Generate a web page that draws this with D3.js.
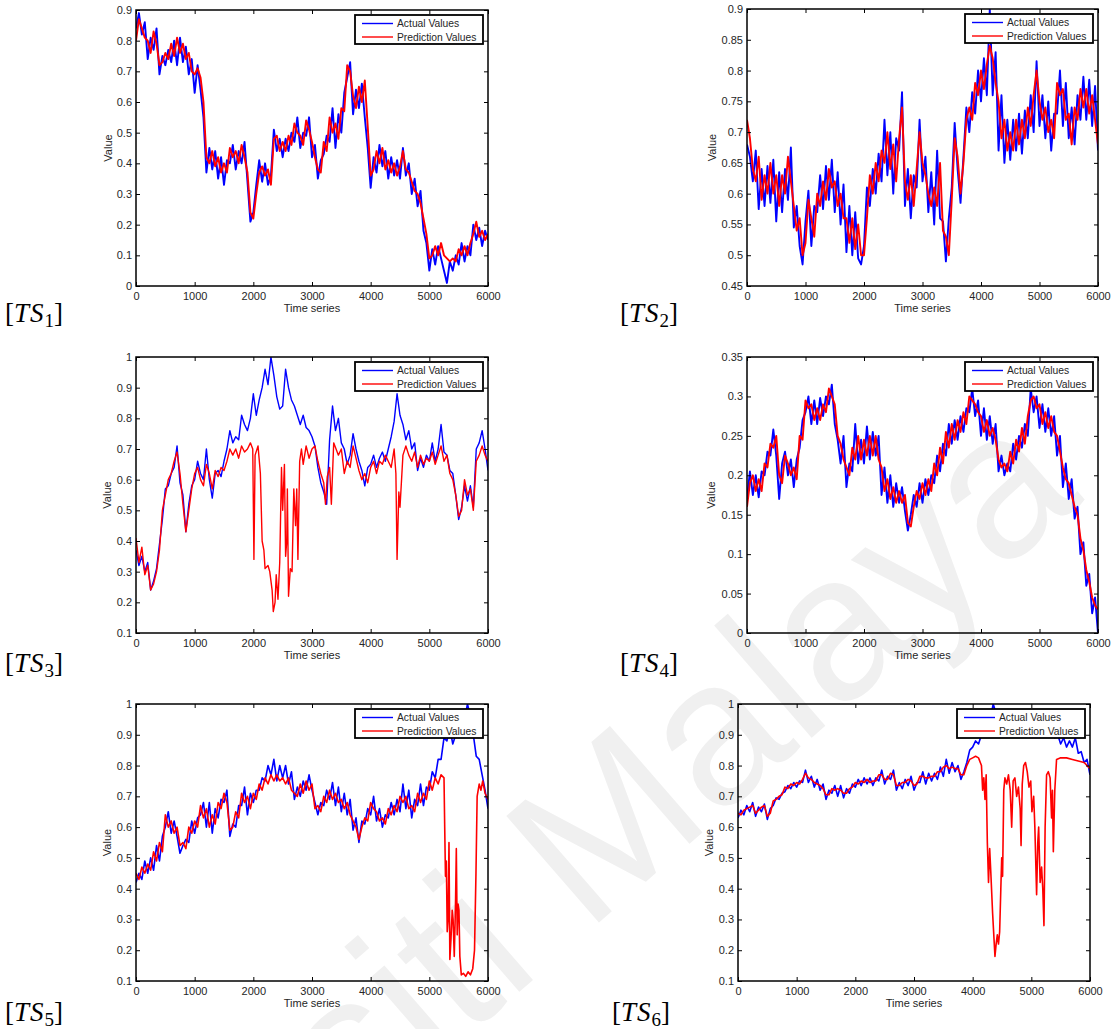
<!DOCTYPE html>
<html>
<head>
<meta charset="utf-8">
<script src="https://cdn.jsdelivr.net/npm/d3@7"></script>
<style>
  body { margin: 0; background: #fff; }
  svg { display: block; }
  .tick text, .axis-title, .legend text { font-family: "Liberation Sans", Arial, Helvetica, sans-serif; }
</style>
</head>
<body>
<svg id="chart" width="1119" height="1029"></svg>
<script>
// ---------- sampling instants (one reading every 50 steps) ----------
const timeGrid = d3.range(0, 6001, 50);

// ---------- TS1 ----------
const ts1Actual = [
  0.84,0.89,0.82,0.86,0.74,0.81,0.77,0.84,0.69,0.75,
  0.72,0.77,0.73,0.80,0.72,0.81,0.73,0.78,0.69,0.74,
  0.63,0.72,0.64,0.55,0.37,0.45,0.38,0.44,0.35,0.42,
  0.33,0.41,0.40,0.46,0.38,0.44,0.40,0.47,0.34,0.21,
  0.24,0.33,0.41,0.34,0.40,0.33,0.36,0.51,0.44,0.48,
  0.42,0.48,0.44,0.50,0.47,0.55,0.45,0.50,0.49,0.55,
  0.42,0.46,0.35,0.41,0.43,0.49,0.47,0.58,0.45,0.56,
  0.50,0.63,0.68,0.73,0.56,0.64,0.58,0.66,0.55,0.45,
  0.32,0.42,0.37,0.46,0.39,0.44,0.35,0.42,0.36,0.41,
  0.35,0.45,0.36,0.40,0.30,0.35,0.26,0.31,0.18,0.14,
  0.05,0.12,0.07,0.13,0.09,0.05,0.01,0.08,0.05,0.10,
  0.07,0.14,0.08,0.13,0.10,0.20,0.15,0.19,0.13,0.18,
  0.15
];
const ts1Pred = [
  0.80,0.87,0.84,0.81,0.80,0.76,0.83,0.79,0.72,0.73,
  0.76,0.74,0.79,0.75,0.81,0.76,0.79,0.74,0.76,0.70,
  0.69,0.71,0.68,0.60,0.42,0.40,0.44,0.39,0.42,0.37,
  0.40,0.37,0.45,0.42,0.44,0.40,0.46,0.42,0.37,0.24,
  0.22,0.30,0.37,0.39,0.36,0.38,0.33,0.48,0.49,0.44,
  0.47,0.44,0.49,0.46,0.53,0.50,0.49,0.46,0.54,0.51,
  0.47,0.42,0.38,0.37,0.47,0.44,0.55,0.50,0.53,0.48,
  0.58,0.57,0.72,0.70,0.62,0.58,0.65,0.60,0.67,0.52,
  0.36,0.38,0.44,0.40,0.45,0.38,0.41,0.37,0.40,0.36,
  0.39,0.44,0.38,0.37,0.34,0.31,0.30,0.27,0.22,0.17,
  0.09,0.10,0.13,0.10,0.14,0.10,0.09,0.08,0.09,0.08,
  0.12,0.10,0.13,0.10,0.14,0.17,0.21,0.16,0.18,0.15,
  0.17
];

// ---------- TS2 ----------
const ts2Actual = [
  0.68,0.66,0.62,0.67,0.575,0.64,0.58,0.645,0.585,0.655,
  0.555,0.635,0.57,0.64,0.59,0.675,0.545,0.58,0.515,0.485,
  0.555,0.605,0.515,0.58,0.57,0.63,0.575,0.645,0.59,0.655,
  0.57,0.635,0.55,0.615,0.505,0.58,0.50,0.57,0.495,0.485,
  0.515,0.61,0.58,0.64,0.60,0.665,0.62,0.72,0.63,0.70,
  0.60,0.69,0.67,0.765,0.58,0.64,0.56,0.63,0.61,0.72,
  0.62,0.66,0.57,0.635,0.55,0.67,0.56,0.555,0.49,0.56,
  0.61,0.715,0.64,0.585,0.66,0.74,0.70,0.765,0.73,0.80,
  0.75,0.82,0.76,0.90,0.76,0.83,0.67,0.76,0.65,0.72,
  0.655,0.72,0.67,0.73,0.665,0.735,0.69,0.76,0.70,0.815,
  0.71,0.76,0.69,0.75,0.67,0.73,0.73,0.80,0.71,0.78,
  0.69,0.74,0.68,0.76,0.72,0.79,0.72,0.785,0.71,0.775,
  0.67
];
const ts2Pred = [
  0.72,0.69,0.64,0.62,0.66,0.59,0.63,0.60,0.65,0.60,
  0.63,0.58,0.63,0.60,0.66,0.62,0.58,0.54,0.56,0.50,
  0.52,0.59,0.56,0.53,0.60,0.58,0.62,0.59,0.64,0.61,
  0.62,0.58,0.60,0.56,0.56,0.52,0.56,0.51,0.55,0.50,
  0.50,0.56,0.63,0.60,0.65,0.62,0.67,0.65,0.70,0.64,
  0.68,0.62,0.69,0.74,0.62,0.59,0.63,0.58,0.64,0.70,
  0.65,0.63,0.60,0.58,0.61,0.58,0.65,0.54,0.53,0.50,
  0.59,0.69,0.66,0.60,0.65,0.72,0.74,0.72,0.78,0.76,
  0.80,0.77,0.81,0.84,0.82,0.78,0.75,0.69,0.72,0.67,
  0.70,0.67,0.72,0.68,0.72,0.69,0.74,0.71,0.76,0.80,
  0.75,0.72,0.74,0.70,0.72,0.69,0.78,0.76,0.77,0.72,
  0.73,0.68,0.74,0.72,0.77,0.74,0.77,0.73,0.76,0.72,
  0.68
];

// ---------- TS3 ----------
const ts3Actual = [
  0.37,0.32,0.35,0.30,0.33,0.24,0.27,0.31,0.39,0.47,
  0.57,0.58,0.62,0.64,0.71,0.59,0.55,0.43,0.52,0.58,
  0.60,0.66,0.62,0.60,0.70,0.60,0.54,0.62,0.63,0.61,
  0.66,0.70,0.76,0.72,0.74,0.73,0.81,0.78,0.76,0.80,
  0.88,0.81,0.86,0.90,0.96,0.91,1.00,0.94,0.87,0.83,
  0.84,0.96,0.90,0.86,0.84,0.81,0.78,0.81,0.77,0.76,
  0.74,0.71,0.64,0.59,0.56,0.52,0.73,0.84,0.76,0.80,
  0.72,0.70,0.65,0.68,0.75,0.70,0.66,0.63,0.58,0.64,
  0.65,0.68,0.64,0.67,0.69,0.66,0.70,0.74,0.79,0.88,
  0.81,0.78,0.73,0.76,0.70,0.72,0.63,0.67,0.64,0.68,
  0.66,0.72,0.66,0.70,0.78,0.69,0.68,0.63,0.62,0.55,
  0.47,0.51,0.58,0.53,0.58,0.51,0.70,0.72,0.76,0.70,
  0.63
];
// prediction read as [time, value]: denser where it breaks away
const ts3Pred = [
  [0,0.41],[50,0.33],[100,0.38],[150,0.29],[200,0.32],[250,0.24],[300,0.26],[350,0.30],[400,0.37],[450,0.50],
  [500,0.55],[550,0.60],[600,0.62],[650,0.66],[700,0.69],[750,0.62],[800,0.52],[850,0.43],[900,0.50],[950,0.57],
  [1000,0.62],[1050,0.64],[1100,0.60],[1150,0.58],[1200,0.65],[1250,0.62],[1300,0.57],[1350,0.63],[1400,0.61],[1450,0.64],
  [1500,0.63],[1550,0.66],[1600,0.70],[1650,0.68],[1700,0.70],[1750,0.67],[1800,0.71],[1850,0.69],[1900,0.70],[1950,0.72],
  [1990,0.70],[2010,0.34],[2030,0.68],[2080,0.71],[2120,0.62],[2150,0.40],[2180,0.37],[2200,0.31],[2250,0.32],[2280,0.30],
  [2320,0.24],[2340,0.17],[2370,0.20],[2390,0.29],[2420,0.21],[2450,0.33],[2480,0.64],[2500,0.50],[2530,0.65],[2550,0.35],
  [2570,0.40],[2580,0.57],[2600,0.22],[2630,0.31],[2660,0.30],[2690,0.57],[2720,0.45],[2740,0.57],[2760,0.34],[2790,0.66],
  [2820,0.70],[2850,0.65],[2900,0.71],[2950,0.67],[3000,0.70],[3050,0.71],[3100,0.66],[3150,0.62],[3200,0.59],[3230,0.52],
  [3260,0.61],[3300,0.64],[3330,0.52],[3370,0.72],[3450,0.68],[3500,0.70],[3550,0.62],[3600,0.66],[3650,0.64],[3700,0.71],
  [3750,0.67],[3800,0.63],[3850,0.60],[3900,0.62],[3950,0.59],[4000,0.64],[4050,0.66],[4100,0.62],[4150,0.66],[4200,0.65],
  [4250,0.68],[4300,0.66],[4350,0.64],[4400,0.70],[4430,0.62],[4450,0.34],[4480,0.56],[4500,0.51],[4550,0.68],[4600,0.71],
  [4650,0.68],[4700,0.66],[4750,0.69],[4800,0.64],[4850,0.68],[4900,0.65],[4950,0.67],[5000,0.66],[5050,0.69],[5100,0.65],
  [5150,0.68],[5200,0.71],[5250,0.66],[5300,0.68],[5350,0.62],[5400,0.60],[5450,0.55],[5500,0.48],[5550,0.50],[5600,0.60],
  [5650,0.55],[5700,0.57],[5750,0.50],[5800,0.66],[5850,0.68],[5900,0.71],[5950,0.68],[6000,0.66]
];

// ---------- TS4 ----------
const ts4Actual = [
  0.17,0.205,0.175,0.20,0.172,0.205,0.20,0.23,0.225,0.258,
  0.225,0.17,0.215,0.23,0.20,0.22,0.185,0.22,0.235,0.27,
  0.28,0.30,0.265,0.295,0.265,0.298,0.275,0.30,0.29,0.315,
  0.265,0.245,0.215,0.25,0.185,0.215,0.205,0.265,0.215,0.245,
  0.215,0.262,0.22,0.255,0.225,0.25,0.175,0.21,0.165,0.20,
  0.16,0.19,0.165,0.185,0.155,0.13,0.15,0.175,0.16,0.19,
  0.165,0.195,0.175,0.20,0.19,0.225,0.205,0.24,0.225,0.265,
  0.24,0.27,0.245,0.275,0.255,0.285,0.28,0.31,0.275,0.295,
  0.25,0.285,0.245,0.275,0.24,0.265,0.205,0.225,0.20,0.215,
  0.205,0.24,0.22,0.25,0.235,0.265,0.25,0.31,0.28,0.30,
  0.26,0.29,0.255,0.285,0.25,0.275,0.225,0.25,0.185,0.215,
  0.17,0.195,0.145,0.16,0.10,0.115,0.06,0.075,0.025,0.045,
  0.0
];
const ts4Pred = [
  0.16,0.19,0.20,0.18,0.195,0.18,0.215,0.21,0.24,0.235,
  0.25,0.20,0.19,0.225,0.215,0.20,0.21,0.195,0.25,0.245,
  0.295,0.285,0.29,0.27,0.285,0.27,0.29,0.28,0.31,0.30,
  0.29,0.25,0.24,0.22,0.21,0.20,0.235,0.22,0.25,0.22,
  0.245,0.225,0.25,0.225,0.25,0.22,0.21,0.18,0.195,0.17,
  0.185,0.165,0.18,0.165,0.175,0.14,0.135,0.16,0.18,0.17,
  0.19,0.175,0.195,0.18,0.215,0.20,0.235,0.215,0.255,0.235,
  0.265,0.245,0.27,0.255,0.28,0.265,0.30,0.295,0.29,0.28,
  0.275,0.255,0.27,0.25,0.26,0.245,0.22,0.21,0.215,0.205,
  0.23,0.215,0.245,0.23,0.26,0.24,0.275,0.295,0.30,0.285,
  0.29,0.265,0.28,0.26,0.275,0.255,0.25,0.23,0.21,0.195,
  0.19,0.175,0.16,0.15,0.12,0.105,0.08,0.065,0.045,0.035,
  0.03
];

// ---------- TS5 ----------
const ts5Actual = [
  0.42,0.45,0.43,0.49,0.45,0.50,0.46,0.54,0.49,0.57,
  0.60,0.65,0.58,0.62,0.57,0.515,0.54,0.56,0.55,0.62,
  0.58,0.63,0.64,0.68,0.60,0.68,0.58,0.66,0.63,0.69,
  0.68,0.72,0.57,0.61,0.60,0.67,0.67,0.73,0.64,0.71,
  0.68,0.72,0.72,0.76,0.75,0.80,0.77,0.82,0.75,0.80,
  0.76,0.80,0.74,0.78,0.69,0.73,0.70,0.75,0.72,0.77,
  0.72,0.68,0.64,0.68,0.67,0.72,0.69,0.745,0.67,0.73,
  0.65,0.71,0.64,0.69,0.59,0.63,0.55,0.62,0.61,0.66,
  0.64,0.70,0.62,0.66,0.60,0.64,0.63,0.68,0.64,0.69,
  0.65,0.74,0.66,0.72,0.63,0.69,0.67,0.74,0.67,0.73,
  0.72,0.78,0.76,0.82,0.82,0.89,0.88,0.92,0.87,0.90,
  0.92,0.97,0.95,1.00,0.96,0.90,0.83,0.82,0.77,0.72,
  0.66
];
const ts5Pred = [
  [0,0.45],[50,0.43],[100,0.47],[150,0.45],[200,0.48],[250,0.46],[300,0.52],[350,0.49],[400,0.55],[450,0.52],
  [500,0.64],[550,0.60],[600,0.62],[650,0.58],[700,0.60],[750,0.54],[800,0.55],[850,0.53],[900,0.60],[950,0.58],
  [1000,0.62],[1050,0.60],[1100,0.67],[1150,0.63],[1200,0.66],[1250,0.60],[1300,0.64],[1350,0.61],[1400,0.68],[1450,0.66],
  [1500,0.71],[1550,0.68],[1600,0.59],[1650,0.60],[1700,0.65],[1750,0.63],[1800,0.71],[1850,0.68],[1900,0.70],[1950,0.66],
  [2000,0.71],[2050,0.69],[2100,0.74],[2150,0.72],[2200,0.76],[2250,0.74],[2300,0.77],[2350,0.75],[2400,0.77],[2450,0.75],
  [2500,0.76],[2550,0.74],[2600,0.76],[2650,0.72],[2700,0.71],[2750,0.70],[2800,0.74],[2850,0.71],[2900,0.75],[2950,0.72],
  [3000,0.74],[3050,0.66],[3100,0.67],[3150,0.65],[3200,0.70],[3250,0.68],[3300,0.72],[3350,0.69],[3400,0.71],[3450,0.68],
  [3500,0.69],[3550,0.66],[3600,0.68],[3650,0.64],[3700,0.62],[3750,0.60],[3800,0.56],[3850,0.60],[3900,0.63],[3950,0.62],
  [4000,0.68],[4050,0.66],[4100,0.65],[4150,0.62],[4200,0.63],[4250,0.61],[4300,0.66],[4350,0.64],[4400,0.67],[4450,0.65],
  [4500,0.70],[4550,0.68],[4600,0.70],[4650,0.66],[4700,0.67],[4750,0.65],[4800,0.71],[4850,0.68],[4900,0.71],[4950,0.69],
  [5000,0.75],[5050,0.72],[5100,0.76],[5150,0.74],[5200,0.77],[5250,0.76],[5262,0.60],[5275,0.44],[5290,0.49],[5305,0.26],
  [5320,0.30],[5335,0.55],[5350,0.17],[5370,0.24],[5390,0.33],[5405,0.30],[5425,0.18],[5440,0.30],[5448,0.37],[5460,0.53],
  [5475,0.25],[5490,0.35],[5505,0.33],[5520,0.18],[5545,0.12],[5580,0.125],[5620,0.115],[5660,0.13],[5700,0.12],[5740,0.14],
  [5770,0.20],[5795,0.45],[5815,0.70],[5850,0.74],[5880,0.72],[5910,0.75],[5950,0.71],[6000,0.69]
];

// ---------- TS6 ----------
const ts6Actual = [
  0.63,0.655,0.64,0.67,0.65,0.68,0.635,0.665,0.65,0.675,
  0.625,0.66,0.67,0.695,0.69,0.71,0.715,0.735,0.725,0.745,
  0.73,0.75,0.745,0.785,0.745,0.765,0.73,0.755,0.72,0.74,
  0.69,0.72,0.71,0.735,0.70,0.735,0.695,0.725,0.71,0.74,
  0.73,0.755,0.735,0.76,0.74,0.76,0.735,0.76,0.75,0.785,
  0.74,0.765,0.755,0.785,0.72,0.745,0.725,0.755,0.735,0.765,
  0.72,0.745,0.745,0.78,0.74,0.775,0.75,0.775,0.755,0.795,
  0.765,0.82,0.775,0.81,0.78,0.80,0.755,0.78,0.81,0.85,
  0.86,0.88,0.87,0.90,0.91,0.95,0.95,1.00,0.97,0.98,
  0.95,0.97,0.94,0.97,0.95,0.98,0.94,0.97,0.95,0.98,
  0.94,0.97,0.95,0.98,0.94,0.96,0.95,0.92,0.89,0.90,
  0.87,0.89,0.86,0.88,0.86,0.89,0.84,0.845,0.81,0.82,
  0.77
];
const ts6Pred = [
  [0,0.645],[50,0.64],[100,0.655],[150,0.66],[200,0.665],[250,0.67],[300,0.645],[350,0.655],[400,0.665],[450,0.67],
  [500,0.635],[550,0.645],[600,0.685],[650,0.69],[700,0.70],[750,0.705],[800,0.73],[850,0.725],[900,0.74],[950,0.735],
  [1000,0.745],[1050,0.74],[1100,0.755],[1150,0.775],[1200,0.76],[1250,0.755],[1300,0.745],[1350,0.74],[1400,0.735],[1450,0.725],
  [1500,0.705],[1550,0.705],[1600,0.725],[1650,0.72],[1700,0.725],[1750,0.72],[1800,0.71],[1850,0.71],[1900,0.725],[1950,0.73],
  [2000,0.745],[2050,0.74],[2100,0.75],[2150,0.745],[2200,0.755],[2250,0.745],[2300,0.75],[2350,0.75],[2400,0.77],[2450,0.77],
  [2500,0.755],[2550,0.755],[2600,0.775],[2650,0.77],[2700,0.735],[2750,0.735],[2800,0.745],[2850,0.745],[2900,0.755],[2950,0.75],
  [3000,0.735],[3050,0.74],[3100,0.765],[3150,0.765],[3200,0.76],[3250,0.76],[3300,0.765],[3350,0.765],[3400,0.78],[3450,0.78],
  [3500,0.795],[3550,0.80],[3600,0.79],[3650,0.795],[3700,0.79],[3750,0.79],[3800,0.77],[3850,0.77],[3900,0.80],[3950,0.82],
  [4000,0.825],[4050,0.83],[4100,0.825],[4150,0.80],[4170,0.72],[4190,0.76],[4210,0.69],[4230,0.77],[4250,0.55],[4270,0.42],
  [4290,0.53],[4310,0.45],[4340,0.32],[4360,0.25],[4380,0.18],[4400,0.22],[4420,0.25],[4440,0.22],[4460,0.26],[4480,0.40],
  [4495,0.50],[4510,0.44],[4530,0.72],[4550,0.76],[4580,0.74],[4610,0.77],[4640,0.72],[4665,0.60],[4690,0.75],[4720,0.76],
  [4750,0.70],[4780,0.73],[4810,0.66],[4825,0.54],[4845,0.74],[4870,0.80],[4900,0.81],[4930,0.78],[4960,0.73],[4990,0.75],
  [5010,0.65],[5040,0.70],[5060,0.60],[5090,0.38],[5110,0.55],[5125,0.60],[5150,0.42],[5175,0.47],[5195,0.40],[5215,0.28],
  [5235,0.60],[5260,0.77],[5290,0.78],[5320,0.76],[5345,0.63],[5360,0.72],[5375,0.52],[5400,0.72],[5430,0.82],[5500,0.825],
  [5600,0.825],[5700,0.82],[5800,0.815],[5900,0.81],[6000,0.79]
];

// ---------- ticks and labels ----------
const xTicks = [0, 1000, 2000, 3000, 4000, 5000, 6000];
const ts1YTicks = [0, 0.1, 0.2, 0.3, 0.4, 0.5, 0.6, 0.7, 0.8, 0.9];
const ts2YTicks = [0.45, 0.5, 0.55, 0.6, 0.65, 0.7, 0.75, 0.8, 0.85, 0.9];
const ts3YTicks = [0.1, 0.2, 0.3, 0.4, 0.5, 0.6, 0.7, 0.8, 0.9, 1];
const ts4YTicks = [0, 0.05, 0.1, 0.15, 0.2, 0.25, 0.3, 0.35];
const ts5YTicks = [0.1, 0.2, 0.3, 0.4, 0.5, 0.6, 0.7, 0.8, 0.9, 1];
const ts6YTicks = [0.1, 0.2, 0.3, 0.4, 0.5, 0.6, 0.7, 0.8, 0.9, 1];
const seriesNames = ["Actual Values", "Prediction Values"];
const seriesColors = ["#0000ff", "#ff0000"];
const xTitle = "Time series";
const yTitle = "Value";
const watermarkText = "Universiti Malaya";

// pair grid-sampled readings with their time stamps
const onGrid = vals => vals.map((v, i) => [timeGrid[i], v]);

// ---------- layout ----------
const panels = [
  { n: 1, box: [136, 488, 10, 286],  yDomain: [0, 0.9],   yTicks: ts1YTicks, actual: onGrid(ts1Actual), pred: onGrid(ts1Pred), width: 1.9, titleDx: 28, tag: [5, 322] },
  { n: 2, box: [747, 1098, 9, 286],  yDomain: [0.45, 0.9], yTicks: ts2YTicks, actual: onGrid(ts2Actual), pred: onGrid(ts2Pred), width: 1.9, titleDx: 35, tag: [620, 322] },
  { n: 3, box: [136, 488, 357, 633], yDomain: [0.1, 1],   yTicks: ts3YTicks, actual: onGrid(ts3Actual), pred: ts3Pred,         width: 1.4, titleDx: 29, tag: [5, 672] },
  { n: 4, box: [747, 1098, 357, 633],yDomain: [0, 0.35],  yTicks: ts4YTicks, actual: onGrid(ts4Actual), pred: onGrid(ts4Pred), width: 1.9, titleDx: 36, tag: [620, 672] },
  { n: 5, box: [136, 488, 704, 981], yDomain: [0.1, 1],   yTicks: ts5YTicks, actual: onGrid(ts5Actual), pred: ts5Pred,         width: 1.6, titleDx: 29, tag: [5, 1021] },
  { n: 6, box: [738, 1090, 704, 981],yDomain: [0.1, 1],   yTicks: ts6YTicks, actual: onGrid(ts6Actual), pred: ts6Pred,         width: 1.6, titleDx: 29, tag: [612, 1021] }
];

const svg = d3.select("#chart");
svg.append("rect").attr("width", 1119).attr("height", 1029).attr("fill", "#fff");

// faint diagonal watermark behind the plots
svg.append("text")
  .attr("transform", "translate(1085,500) rotate(-41)")
  .attr("text-anchor", "end")
  .attr("font-family", "'Liberation Sans', Arial, sans-serif")
  .attr("font-size", 205)
  .attr("fill", "#f0f0f0")
  .text(watermarkText);

const tickFmt = v => String(+v.toFixed(2));

panels.forEach(p => {
  const [x0, x1, y0, y1] = p.box;
  const x = d3.scaleLinear().domain([0, 6000]).range([x0, x1]);
  const y = d3.scaleLinear().domain(p.yDomain).range([y1, y0]);
  const g = svg.append("g").attr("class", "panel");

  const clipId = "clip" + p.n;
  g.append("clipPath").attr("id", clipId)
    .append("rect").attr("x", x0).attr("y", y0).attr("width", x1 - x0).attr("height", y1 - y0);

  const line = d3.line().x(d => x(d[0])).y(d => y(d[1]));
  const plot = g.append("g").attr("clip-path", `url(#${clipId})`);
  [p.actual, p.pred].forEach((series, i) => {
    plot.append("path")
      .attr("d", line(series))
      .attr("fill", "none")
      .attr("stroke", seriesColors[i])
      .attr("stroke-width", p.width)
      .attr("stroke-linejoin", "round");
  });

  // axes with inward ticks on all four sides
  const styleAxis = sel => {
    sel.select(".domain").remove();
    sel.selectAll(".tick line").attr("stroke", "#000");
    sel.selectAll(".tick text").attr("fill", "#262626").attr("font-size", 11);
  };
  g.append("g").attr("transform", `translate(0,${y1})`)
    .call(d3.axisBottom(x).tickValues(xTicks).tickSizeInner(-4).tickSizeOuter(0).tickPadding(6).tickFormat(d3.format("d")))
    .call(styleAxis);
  g.append("g").attr("transform", `translate(0,${y0})`)
    .call(d3.axisTop(x).tickValues(xTicks).tickSizeInner(-4).tickSizeOuter(0).tickFormat(""))
    .call(styleAxis);
  g.append("g").attr("transform", `translate(${x0},0)`)
    .call(d3.axisLeft(y).tickValues(p.yTicks).tickSizeInner(-4).tickSizeOuter(0).tickPadding(4).tickFormat(tickFmt))
    .call(styleAxis);
  g.append("g").attr("transform", `translate(${x1},0)`)
    .call(d3.axisRight(y).tickValues(p.yTicks).tickSizeInner(-4).tickSizeOuter(0).tickFormat(""))
    .call(styleAxis);

  g.append("rect").attr("x", x0).attr("y", y0).attr("width", x1 - x0).attr("height", y1 - y0)
    .attr("fill", "none").attr("stroke", "#000").attr("stroke-width", 1.5);

  // axis titles
  g.append("text").attr("class", "axis-title")
    .attr("x", (x0 + x1) / 2).attr("y", y1 + 26)
    .attr("text-anchor", "middle").attr("font-size", 11).attr("fill", "#262626")
    .text(xTitle);
  g.append("text").attr("class", "axis-title")
    .attr("transform", `translate(${x0 - p.titleDx},${(y0 + y1) / 2}) rotate(-90)`)
    .attr("text-anchor", "middle").attr("dy", "0.35em").attr("font-size", 11).attr("fill", "#262626")
    .text(yTitle);

  // legend
  const lw = 128, lh = 29, lx = x1 - 5 - lw, ly = y0 + 5;
  const lg = g.append("g").attr("class", "legend");
  lg.append("rect").attr("x", lx).attr("y", ly).attr("width", lw).attr("height", lh)
    .attr("fill", "#fff").attr("stroke", "#000").attr("stroke-width", 1.8);
  seriesNames.forEach((name, i) => {
    const cy = ly + 8.5 + i * 13.5;
    lg.append("line").attr("x1", lx + 7).attr("x2", lx + 38).attr("y1", cy).attr("y2", cy)
      .attr("stroke", seriesColors[i]).attr("stroke-width", 1.4);
    lg.append("text").attr("x", lx + 42).attr("y", cy).attr("dy", "0.35em")
      .attr("font-size", 10.3).attr("fill", "#262626").text(name);
  });

  // panel tag such as [TS1]
  const tag = svg.append("text")
    .attr("x", p.tag[0]).attr("y", p.tag[1])
    .attr("font-family", "'Liberation Serif', 'Times New Roman', serif")
    .attr("font-size", 27).attr("fill", "#000");
  tag.append("tspan").text("[");
  tag.append("tspan").attr("font-style", "italic").attr("letter-spacing", 1).text("TS");
  tag.append("tspan").attr("font-size", 19).attr("dy", 5).text(p.n);
  tag.append("tspan").attr("dy", -5).text("]");
});
</script>
</body>
</html>
